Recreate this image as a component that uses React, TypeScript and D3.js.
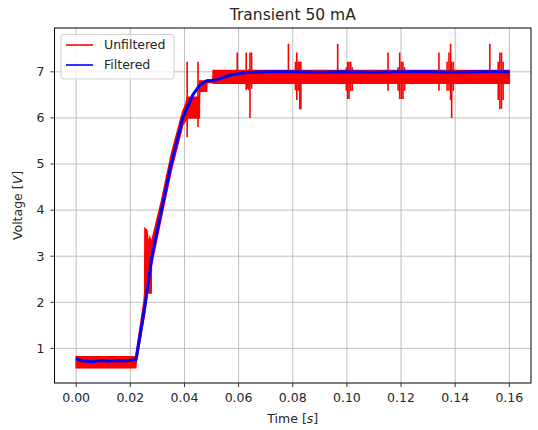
import React from 'react';
import * as d3 from 'd3';

// filtered trace (blue)
const filteredT = [0, 0.002, 0.004, 0.006, 0.008, 0.010, 0.012, 0.014, 0.016, 0.018, 0.020, 0.022,
  0.0222, 0.0256, 0.028, 0.0315, 0.0351, 0.0394, 0.0431, 0.0455, 0.048, 0.050, 0.052, 0.054,
  0.056, 0.058, 0.060, 0.062, 0.065, 0.070, 0.080, 0.090, 0.100, 0.110, 0.120, 0.130, 0.140, 0.150, 0.160];
const filteredV = [0.78, 0.73, 0.72, 0.71, 0.73, 0.74, 0.72, 0.73, 0.74, 0.73, 0.74, 0.76,
  0.78, 2.0, 3.0, 4.0, 5.0, 6.0, 6.5, 6.7, 6.8, 6.81, 6.83, 6.87,
  6.91, 6.94, 6.96, 6.98, 6.99, 7.0, 7.0, 6.99, 7.0, 6.99, 7.0, 7.0, 6.99, 7.0, 7.0];

// unfiltered trace envelope (red band)
const rawT = [0, 0.022, 0.0222, 0.0250, 0.0253, 0.0254, 0.0262, 0.0266, 0.0272, 0.0277, 0.0278,
  0.0315, 0.0351, 0.0394, 0.0405, 0.0410, 0.0455, 0.0456, 0.0482, 0.0483, 0.0505, 0.0506, 0.160];
const rawLo = [0.58, 0.58, 0.70, 1.65, 1.75, 1.8, 2.2, 2.2, 2.2, 2.2, 2.8,
  3.85, 4.85, 5.85, 5.95, 6.0, 6.0, 6.58, 6.58, 6.77, 6.77, 6.75, 6.75];
const rawHi = [0.82, 0.82, 0.90, 2.0, 2.2, 3.6, 3.55, 3.25, 3.4, 3.3, 3.3,
  4.2, 5.2, 6.15, 6.3, 6.45, 6.45, 6.8, 6.8, 6.82, 6.82, 7.03, 7.03];

// glitches in the unfiltered trace
const spikeT = [0.0410, 0.0450, 0.0595, 0.0628, 0.0633, 0.0638, 0.0642, 0.0648,
  0.0784, 0.0810, 0.0815, 0.0820, 0.0826, 0.0830,
  0.0966, 0.0998, 0.1003, 0.1008, 0.1014, 0.1020,
  0.1152, 0.1189, 0.1195, 0.1201, 0.1207, 0.1213,
  0.1340, 0.1370, 0.1377, 0.1383, 0.1387, 0.1393,
  0.1528, 0.1559, 0.1565, 0.1571, 0.1577];
const spikeLo = [5.58, 5.80, 6.90, 6.60, 6.63, 6.60, 6.00, 6.63,
  6.90, 6.60, 6.39, 6.59, 6.19, 6.19,
  6.90, 6.59, 6.41, 6.41, 6.59, 6.59,
  6.59, 6.59, 6.41, 6.41, 6.41, 6.59,
  6.59, 6.59, 6.59, 6.39, 6.00, 6.59,
  6.90, 6.39, 6.19, 6.20, 6.39];
const spikeHi = [7.22, 7.22, 7.42, 7.42, 7.00, 7.05, 7.42, 7.42,
  7.61, 7.22, 7.42, 7.22, 7.22, 7.22,
  7.61, 7.10, 7.22, 7.22, 7.22, 7.10,
  7.42, 7.10, 7.42, 7.22, 7.22, 7.10,
  7.42, 7.22, 7.42, 7.61, 7.22, 7.22,
  7.61, 7.22, 7.42, 7.42, 7.22];

const xTicks = [0, 0.02, 0.04, 0.06, 0.08, 0.10, 0.12, 0.14, 0.16];
const yTicks = [1, 2, 3, 4, 5, 6, 7];
const legendItems = [{ label: 'Unfiltered', color: 'red' }, { label: 'Filtered', color: 'blue' }];

const W = 538, H = 430;
const L = 54.5, R = 531, T = 28, B = 383;
const font = 'DejaVu Sans, sans-serif';

export default function App() {
  const x = d3.scaleLinear().domain([-0.008, 0.168]).range([L, R]);
  const y = d3.scaleLinear().domain([0.25, 7.95]).range([B, T]);

  const band = d3.area<number>()
    .x(i => x(rawT[i]))
    .y0(i => y(rawLo[i]))
    .y1(i => y(rawHi[i]));
  const line = d3.line<number>()
    .x(i => x(filteredT[i]))
    .y(i => y(filteredV[i]));

  return (
    <svg width={W} height={H} style={{ position: 'absolute', left: 0, top: 0 }} fontFamily={font}>
      <rect width={W} height={H} fill="#fff" />
      <defs>
        <clipPath id="plot"><rect x={L} y={T} width={R - L} height={B - T} /></clipPath>
      </defs>
      <g stroke="#b0b0b0" strokeWidth={0.8}>
        {xTicks.map(t => <line key={t} x1={x(t)} x2={x(t)} y1={T} y2={B} />)}
        {yTicks.map(t => <line key={t} x1={L} x2={R} y1={y(t)} y2={y(t)} />)}
      </g>
      <g clipPath="url(#plot)">
        <path d={band(d3.range(rawT.length)) ?? ''} fill="red" stroke="red" strokeWidth={1.5} />
        <g stroke="red" strokeWidth={1.6}>
          {spikeT.map((t, i) => (
            <line key={i} x1={x(t)} x2={x(t)} y1={y(spikeLo[i])} y2={y(spikeHi[i])} />
          ))}
        </g>
        <path d={line(d3.range(filteredT.length)) ?? ''} fill="none" stroke="blue" strokeWidth={3} strokeLinejoin="round" />
      </g>
      <rect x={L} y={T} width={R - L} height={B - T} fill="none" stroke="#000" strokeWidth={1} />
      <g fontSize={12.5} fill="#262626">
        {xTicks.map(t => (
          <g key={t}>
            <line x1={x(t)} x2={x(t)} y1={B} y2={B + 4} stroke="#000" strokeWidth={0.8} />
            <text x={x(t)} y={B + 19} textAnchor="middle">{t.toFixed(2)}</text>
          </g>
        ))}
        {yTicks.map(t => (
          <g key={t}>
            <line x1={L - 4} x2={L} y1={y(t)} y2={y(t)} stroke="#000" strokeWidth={0.8} />
            <text x={L - 10} y={y(t)} dy="0.35em" textAnchor="end">{t}</text>
          </g>
        ))}
      </g>
      <text x={(L + R) / 2} y={20} textAnchor="middle" fontSize={15.5} fill="#262626">Transient 50 mA</text>
      <text x={(L + R) / 2} y={423} textAnchor="middle" fontSize={12.5} fill="#262626">
        Time [<tspan fontStyle="italic">s</tspan>]
      </text>
      <text transform={`translate(22,${(T + B) / 2}) rotate(-90)`} textAnchor="middle" fontSize={12.5} fill="#262626">
        Voltage [<tspan fontStyle="italic">V</tspan>]
      </text>
      <g>
        <rect x={61} y={34.5} width={113} height={44.5} rx={3} fill="#fff" fillOpacity={0.8} stroke="#d0d0d0" />
        {legendItems.map((d, i) => (
          <g key={d.label}>
            <line x1={66} x2={93} y1={45 + i * 20} y2={45 + i * 20} stroke={d.color} strokeWidth={1.6} />
            <text x={104} y={45 + i * 20} dy="0.35em" fontSize={12.5} fill="#262626">{d.label}</text>
          </g>
        ))}
      </g>
    </svg>
  );
}
